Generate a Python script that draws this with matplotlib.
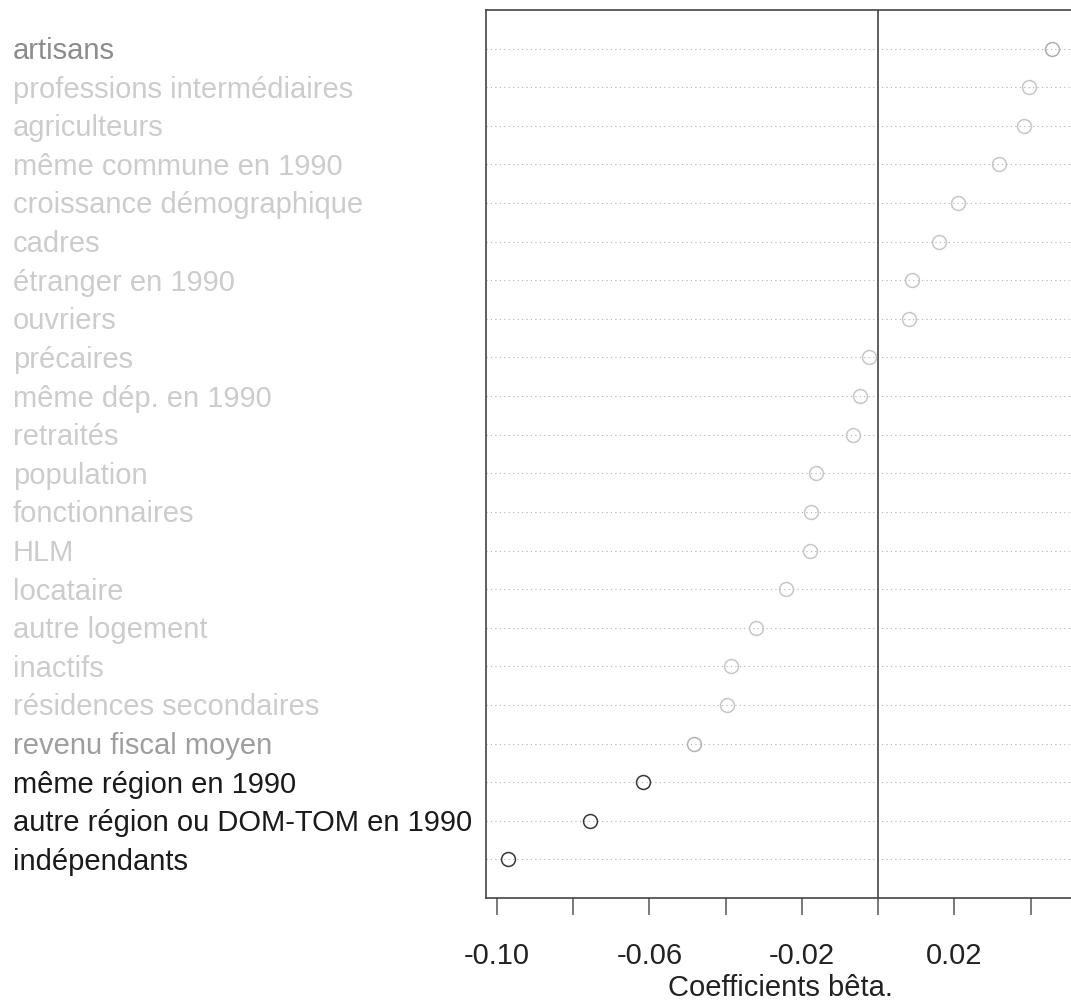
import numpy as np
import matplotlib
matplotlib.use("Agg")
from matplotlib import pyplot as plt
from matplotlib import transforms

# rows listed from top to bottom
labels = [
    "artisans",
    "professions intermédiaires",
    "agriculteurs",
    "même commune en 1990",
    "croissance démographique",
    "cadres",
    "étranger en 1990",
    "ouvriers",
    "précaires",
    "même dép. en 1990",
    "retraités",
    "population",
    "fonctionnaires",
    "HLM",
    "locataire",
    "autre logement",
    "inactifs",
    "résidences secondaires",
    "revenu fiscal moyen",
    "même région en 1990",
    "autre région ou DOM-TOM en 1990",
    "indépendants",
]
betas = [0.0457, 0.0395, 0.0382, 0.0318, 0.0209, 0.0160, 0.0089, 0.0081,
         -0.0024, -0.0047, -0.0066, -0.0163, -0.0176, -0.0179, -0.0242,
         -0.0321, -0.0386, -0.0397, -0.0483, -0.0616, -0.0756, -0.0971]
# grey level of each label, darker = more significant
label_greys = [0.55, 0.8, 0.8, 0.8, 0.8, 0.8, 0.8, 0.8, 0.8, 0.8, 0.8,
               0.8, 0.8, 0.8, 0.8, 0.8, 0.8, 0.8, 0.62, 0.1, 0.1, 0.1]
# grey level of each point
point_greys = [0.68, 0.78, 0.78, 0.78, 0.78, 0.78, 0.78, 0.78, 0.78, 0.78, 0.78,
               0.78, 0.78, 0.78, 0.78, 0.78, 0.78, 0.78, 0.7, 0.22, 0.22, 0.22]

xticks = [-0.10, -0.08, -0.06, -0.04, -0.02, 0.0, 0.02, 0.04]
xticklabels = ["-0.10", "", "-0.06", "", "-0.02", "", "0.02", ""]

plt.rcParams['font.family'] = ['Liberation Sans', 'DejaVu Sans']

fig = plt.figure(figsize=(10.71, 10.05), dpi=100)
ax = fig.add_axes([486/1071, 107/1005, 588/1071, 888/1005])

n = len(labels)
y = np.arange(n, 0, -1)

for yi in y:
    ax.axhline(yi, color='#b0b0b0', lw=0.8, ls=(0, (1, 3)), zorder=1)
ax.axvline(0, color='#444444', lw=1.2, zorder=2)

for xi, yi, g in zip(betas, y, point_greys):
    ax.plot(xi, yi, 'o', ms=10, mfc='none', mec=str(g), mew=1.1, zorder=3)

ax.set_xlim(-0.1029, 0.0514)
ax.set_ylim(0, n + 1)
ax.set_yticks([])
ax.set_xticks(xticks)
ax.set_xticklabels(xticklabels)
ax.tick_params(axis='x', direction='out', length=12.5, width=1.1,
               color='#555555', labelsize=21, labelcolor='#222222', pad=19)
for s in ax.spines.values():
    s.set_color('#444444')
    s.set_linewidth(1.2)
ax.spines['right'].set_visible(False)
ax.set_xlabel("Coefficients bêta.", fontsize=21, color='#222222', labelpad=3)

trans = transforms.blended_transform_factory(fig.transFigure, ax.transData)
for lab, yi, g in zip(labels, y, label_greys):
    ax.text(13/1071, yi - 0.27, lab, transform=trans, fontsize=21,
            color=str(g), ha='left', va='baseline', clip_on=False)

fig.savefig("out.png", dpi=100)
